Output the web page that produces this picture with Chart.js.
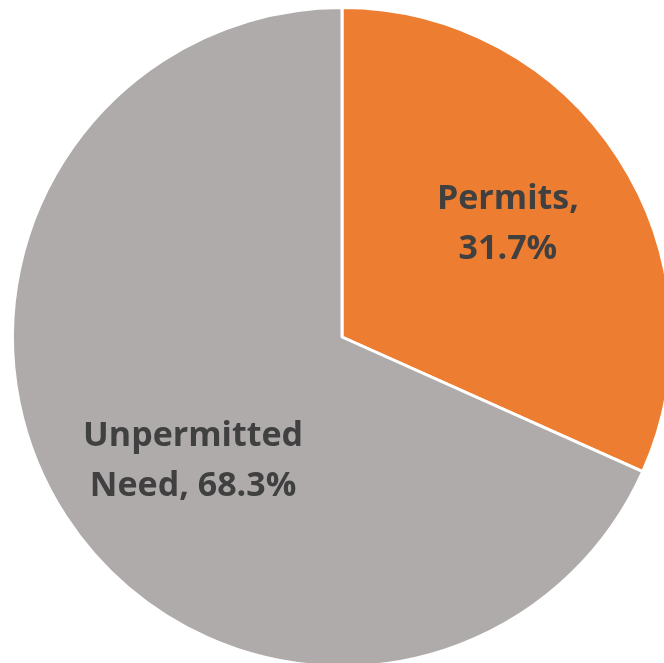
<!DOCTYPE html>
<html lang="en">
<head>
<meta charset="UTF-8">
<title>Permits vs Unpermitted Need</title>
<script src="https://cdn.jsdelivr.net/npm/chart.js@4.4.1/dist/chart.umd.min.js"></script>
<style>
  html, body { margin: 0; padding: 0; background: #fff; overflow: hidden; width: 664px; height: 663px; }
  #pie { position: absolute; left: 0; top: 0; }
</style>
</head>
<body>
<canvas id="pie" width="684" height="674"></canvas>
<script>
const categories = ['Permits', 'Unpermitted Need'];
const shares = [31.7, 68.3];
const labelLines = [['Permits,', '31.7%'], ['Unpermitted', 'Need, 68.3%']];
const sliceColors = ['#ED7D31', '#AEABAA'];

// draws the two-line data labels inside each slice
const sliceLabels = {
  id: 'sliceLabels',
  afterDatasetsDraw(chart, args, opts) {
    const ctx = chart.ctx;
    const arcs = chart.getDatasetMeta(0).data;
    ctx.save();
    ctx.font = 'bold ' + opts.size + 'px "Open Sans", Lato, sans-serif';
    ctx.fillStyle = opts.color;
    ctx.textAlign = 'center';
    ctx.textBaseline = 'alphabetic';
    arcs.forEach((arc, i) => {
      const mid = (arc.startAngle + arc.endAngle) / 2;
      const r = arc.outerRadius * opts.ratio;
      const nudge = opts.nudge[i];
      const x = arc.x + Math.cos(mid) * r + nudge[0];
      const y = arc.y + Math.sin(mid) * r + nudge[1];
      const lines = labelLines[i];
      // y is the centre of the block: first baseline sits half a line above
      lines.forEach((line, j) => {
        ctx.fillText(line, x, y + opts.capShift + (j - (lines.length - 1) / 2) * opts.lineHeight);
      });
    });
    ctx.restore();
  }
};

new Chart(document.getElementById('pie'), {
  type: 'pie',
  data: {
    labels: categories,
    datasets: [{
      data: shares,
      backgroundColor: sliceColors,
      borderColor: '#ffffff',
      borderWidth: 3
    }]
  },
  options: {
    responsive: false,
    animation: false,
    layout: { padding: 6 },
    plugins: {
      legend: { display: false },
      tooltip: { enabled: false },
      sliceLabels: { size: 34, lineHeight: 50, capShift: 12, color: '#404040', ratio: 0.6, nudge: [[0, -7], [17, 14]] }
    }
  },
  plugins: [sliceLabels]
});
</script>
</body>
</html>
